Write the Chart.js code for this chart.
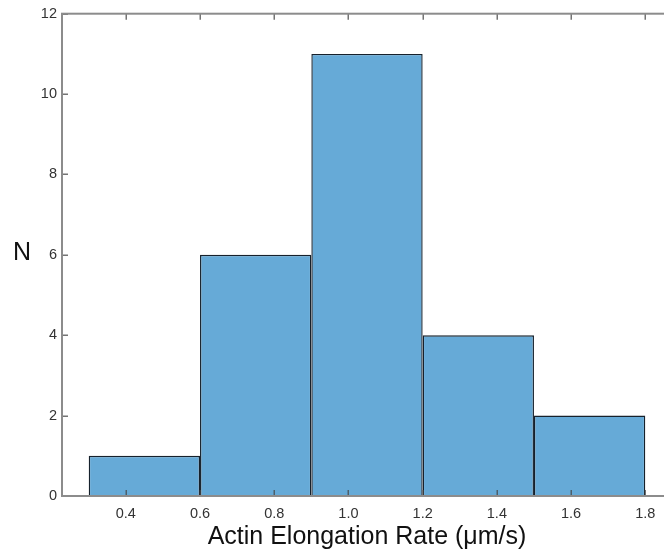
<!DOCTYPE html>
<html>
<head>
<meta charset="utf-8">
<script src="https://cdn.jsdelivr.net/npm/chart.js@4/dist/chart.umd.min.js"></script>
<style>
  html, body { margin: 0; padding: 0; overflow: hidden; background: #fff; }
  #wrap { width: 700px; height: 554px; position: relative; }
</style>
</head>
<body>
<div id="wrap"><canvas id="hist"></canvas></div>
<script>
// Histogram bins (edges, µm/s) and counts per bin
const binEdges = [0.3, 0.6, 0.9, 1.2, 1.5, 1.8];
const binCounts = [1, 6, 11, 4, 2];
// Axis tick values
const xTickValues = [0.4, 0.6, 0.8, 1.0, 1.2, 1.4, 1.6, 1.8];
const yTickValues = [0, 2, 4, 6, 8, 10, 12];
const xTitle = 'Actin Elongation Rate (\u03bcm/s)';
const yTitle = 'N';

const binCenters = binCounts.map((_, i) => (binEdges[i] + binEdges[i + 1]) / 2);
const points = binCounts.map((c, i) => ({ x: binCenters[i], y: c }));
// The bar controller sizes bars from the smallest gap among data and ticks
// (the tick step here), so scale that up to one full bin width.
const binWidth = binEdges[1] - binEdges[0];
const tickStep = xTickValues[1] - xTickValues[0];

const FONT = '"Liberation Sans", Arial, Helvetica, sans-serif';
const AXIS_GRAY = '#8c8c8c';

// Box outline around the plot area with inward tick marks on all four sides,
// plus the horizontal "N" label on the left.
const boxAndTicks = {
  id: 'boxAndTicks',
  afterDatasetsDraw(chart) {
    const { ctx, chartArea: a, scales } = chart;
    const len = 6;
    ctx.save();
    // tick marks
    ctx.strokeStyle = 'rgba(70,70,70,0.75)';
    ctx.lineWidth = 1.5;
    ctx.beginPath();
    xTickValues.forEach(v => {
      const px = Math.round(scales.x.getPixelForValue(v)) + 0.25;
      ctx.moveTo(px, a.bottom); ctx.lineTo(px, a.bottom - len);
      ctx.moveTo(px, a.top); ctx.lineTo(px, a.top + len);
    });
    yTickValues.forEach(v => {
      const py = Math.round(scales.y.getPixelForValue(v)) + 0.25;
      ctx.moveTo(a.left, py); ctx.lineTo(a.left + len, py);
      ctx.moveTo(a.right, py); ctx.lineTo(a.right - len, py);
    });
    ctx.stroke();
    // frame
    ctx.strokeStyle = AXIS_GRAY;
    ctx.lineWidth = 2;
    ctx.strokeRect(a.left, a.top, a.right - a.left, a.bottom - a.top);
    // y label
    ctx.fillStyle = '#111';
    ctx.font = '25px ' + FONT;
    ctx.textAlign = 'center';
    ctx.textBaseline = 'middle';
    ctx.fillText(yTitle, 22, scales.y.getPixelForValue(6) - 2);
    ctx.restore();
  }
};

new Chart(document.getElementById('hist'), {
  type: 'bar',
  data: {
    datasets: [{
      data: points,
      backgroundColor: '#66aad7',
      borderColor: '#16212c',
      borderWidth: 1.4,
      barPercentage: 1,
      categoryPercentage: binWidth / tickStep
    }]
  },
  options: {
    responsive: true,
    maintainAspectRatio: false,
    devicePixelRatio: 1,
    animation: false,
    layout: { padding: { top: 13, right: 28, left: 0, bottom: 0 } },
    plugins: { legend: { display: false }, tooltip: { enabled: false } },
    scales: {
      x: {
        type: 'linear',
        offset: false,
        min: 0.228,
        max: 1.872,
        afterBuildTicks: s => { s.ticks = xTickValues.map(v => ({ value: v })); },
        afterFit: s => { s.height = 58; },
        grid: { display: false, drawTicks: false, offset: false },
        border: { display: false },
        ticks: {
          padding: 9,
          color: '#333',
          font: { family: FONT, size: 14.5 },
          callback: v => Number(v).toFixed(1)
        },
        title: {
          display: true,
          text: xTitle,
          color: '#111',
          font: { family: FONT, size: 25 },
          padding: { top: 0, bottom: 2 }
        }
      },
      y: {
        min: 0,
        max: 12,
        afterBuildTicks: s => { s.ticks = yTickValues.map(v => ({ value: v })); },
        afterFit: s => { s.width = 62; },
        grid: { display: false, drawTicks: false },
        border: { display: false },
        ticks: {
          padding: 5,
          color: '#333',
          font: { family: FONT, size: 14.5 },
          callback: v => String(v)
        }
      }
    }
  },
  plugins: [boxAndTicks]
});
</script>
</body>
</html>
